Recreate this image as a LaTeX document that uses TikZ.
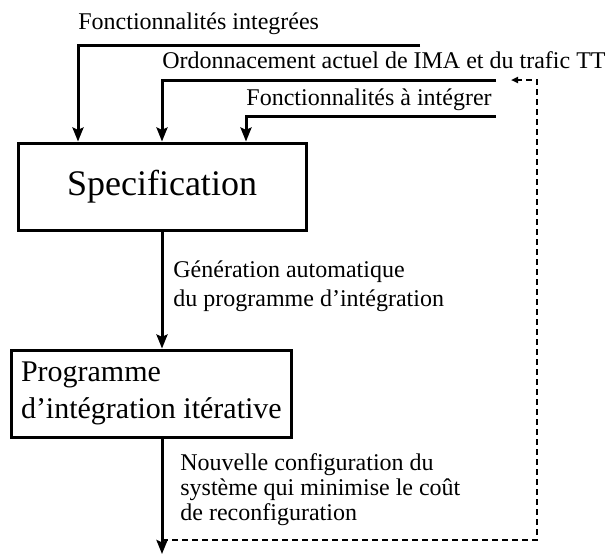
\documentclass[tikz,border=0pt]{standalone}
\usepackage{fontspec}
\setmainfont{Liberation Serif}
\usetikzlibrary{arrows.meta}

\tikzset{
    flux/.style={line width=1.5pt, -{Stealth[length=7pt,width=5.5pt,inset=1.2pt]}},
    tirets/.style={line width=1.1pt, dash pattern=on 3pt off 2pt, -{Triangle[length=3.5pt,width=3pt]}},
    bloc/.style={draw, line width=1.5pt},
    etiquette/.style={inner sep=0pt, align=left, font=\fontsize{12}{14.3}\selectfont}
}

\begin{document}
\begin{tikzpicture}[x=0.5pt,y=-0.5pt]
    \useasboundingbox (0,0) rectangle (608,554);

    \node[bloc, minimum width=144pt, minimum height=43.5pt, font=\fontsize{18}{20}\selectfont] (spec) at (162,186.5) {Specification};
    \node[bloc, anchor=west, minimum height=43.5pt, inner xsep=5pt, align=left,
          font=\fontsize{15}{18.5}\selectfont] (prog) at (9.5,393.5) {Programme\\d'intégration itérative};

    % entrees de la specification
    \coordinate (in1) at (78,45);
    \coordinate (in2) at (162,80);
    \coordinate (in3) at (246,116);
    \coordinate (bout1) at (420,45);
    \coordinate (bout2) at (496,80);
    \coordinate (bout3) at (496,116);

    \node[etiquette, anchor=base west] (f1) at (78,29) {Fonctionnalités integrées};
    \node[etiquette, anchor=base west] (f2) at (162,68) {Ordonnacement actuel de IMA et du trafic TT};
    \node[etiquette, anchor=base west] (f3) at (246,105) {Fonctionnalités à intégrer};

    \draw[flux] (bout1) -- (in1) -- (in1 |- spec.north);
    \draw[flux] (bout2) -- (in2) -- (in2 |- spec.north);
    \draw[flux] (bout3) -- (in3) -- (in3 |- spec.north);

    % generation puis sortie
    \draw[flux] (spec.south) -- (spec.south |- prog.north);
    \node[etiquette, anchor=base west] (gen) at (173,306) {Génération automatique\\du programme d'intégration};

    \coordinate (sortie) at (162,554);
    \draw[flux] (sortie |- prog.south) -- (sortie);
    \node[etiquette, anchor=base west, font=\fontsize{12}{12.3}\selectfont] (nouv) at (180,520) {Nouvelle configuration du\\système qui minimise le coût\\de reconfiguration};

    % boucle de reconfiguration
    \coordinate (coin) at (537,540);
    \coordinate (retour) at (511,80);
    \draw[tirets] (sortie |- coin) -- (coin) -- (coin |- retour) -- (retour);

\end{tikzpicture}
\end{document}
